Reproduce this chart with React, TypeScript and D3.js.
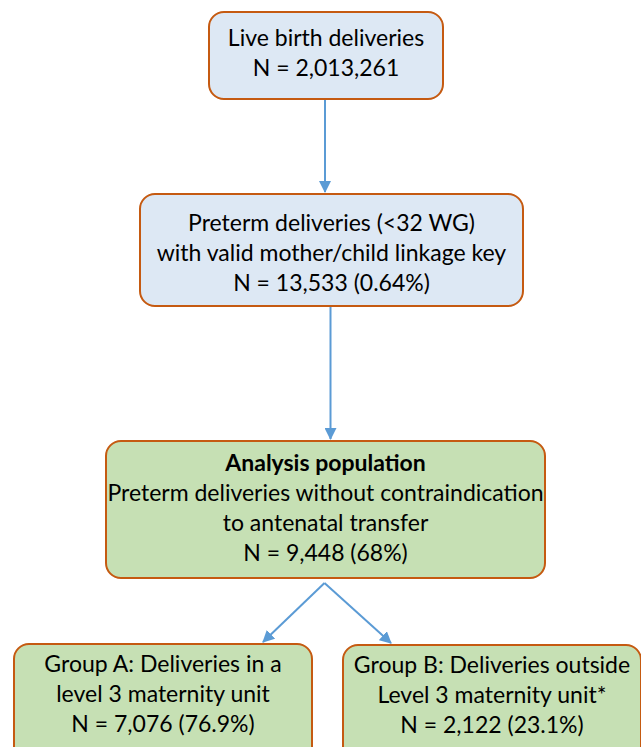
import React, { useEffect, useRef } from 'react';
import * as d3 from 'd3';

// box content
const boxIds = ['live', 'preterm', 'analysis', 'groupA', 'groupB'];
const boxTitles = ['', '', 'Analysis population', '', ''];
const boxLines = [
  ['Live birth deliveries', 'N = 2,013,261'],
  ['Preterm deliveries (<32 WG)', 'with valid mother/child linkage key', 'N = 13,533 (0.64%)'],
  ['Preterm deliveries without contraindication', 'to antenatal transfer', 'N = 9,448 (68%)'],
  ['Group A: Deliveries in a', 'level 3 maternity unit', 'N = 7,076 (76.9%)'],
  ['Group B: Deliveries outside', 'Level 3 maternity unit*', 'N = 2,122 (23.1%)'],
];
const boxKinds = ['blue', 'blue', 'green', 'green', 'green'];

// layout (pixels)
const boxX = [209, 140, 106, 14, 343];
const boxW = [234, 383, 439, 298, 298];
const boxY = [12, 194, 441, 644, 645];
const boxH = [87, 112, 137, 120, 120];
const firstBaseline = [46, 231, 471, 672, 673];

const links = [
  ['live', 'preterm'],
  ['preterm', 'analysis'],
  ['analysis', 'groupA'],
  ['analysis', 'groupB'],
];

const fills: Record<string, string> = { blue: '#dde8f4', green: '#c6e0b4' };

const App = () => {
  const ref = useRef<SVGSVGElement>(null);

  useEffect(() => {
    const svg = d3.select(ref.current);
    svg.selectAll('*').remove();

    const nodes = boxIds.map((id, i) => ({
      id, x: boxX[i], y: boxY[i], w: boxW[i], h: boxH[i],
      title: boxTitles[i], lines: boxLines[i], kind: boxKinds[i], base: firstBaseline[i],
    }));
    const byId = new Map(nodes.map(n => [n.id, n]));

    svg.append('defs').append('marker')
      .attr('id', 'head')
      .attr('viewBox', '0 0 12 12')
      .attr('refX', 11).attr('refY', 6)
      .attr('markerWidth', 12).attr('markerHeight', 12)
      .attr('markerUnits', 'userSpaceOnUse')
      .attr('orient', 'auto')
      .append('path')
      .attr('d', 'M0,0 L12,6 L0,12 Z')
      .attr('fill', '#5b9bd5');

    const line = d3.line();

    links.forEach(([s, t]) => {
      const a = byId.get(s)!;
      const b = byId.get(t)!;
      const sx = a.x + a.w / 2 - 1;
      const sy = a.y + a.h + 5;
      let tx = b.x + b.w / 2;
      const ty = b.y - 2;
      // diagonal branches end near the inner side of the target box
      if (t === 'groupA') tx = b.x + b.w - 49;
      if (t === 'groupB') tx = b.x + 48;
      if (s !== 'analysis') tx = sx;
      svg.append('path')
        .attr('d', line([[sx, s === 'analysis' ? sy : a.y + a.h], [tx, ty]]))
        .attr('stroke', '#5b9bd5')
        .attr('stroke-width', 2)
        .attr('fill', 'none')
        .attr('marker-end', 'url(#head)');
    });

    const g = svg.selectAll('g.box').data(nodes).enter().append('g').attr('class', 'box');

    g.append('rect')
      .attr('x', d => d.x).attr('y', d => d.y)
      .attr('width', d => d.w).attr('height', d => d.h)
      .attr('rx', 15).attr('ry', 15)
      .attr('fill', d => fills[d.kind])
      .attr('stroke', '#c55a11')
      .attr('stroke-width', 2);

    g.each(function (d) {
      const el = d3.select(this);
      const rows = d.title ? [d.title, ...d.lines] : d.lines;
      rows.forEach((txt, i) => {
        el.append('text')
          .attr('x', d.x + d.w / 2)
          .attr('y', d.base + i * 30)
          .attr('text-anchor', 'middle')
          .attr('font-family', 'Lato, sans-serif')
          .attr('font-size', 23)
          .attr('font-weight', d.title && i === 0 ? 700 : 400)
          .attr('fill', '#000')
          .text(txt);
      });
    });
  }, []);

  return (
    <div style={{ position: 'absolute', left: 0, top: 0 }}>
      <svg ref={ref} width={641} height={747} style={{ display: 'block', background: '#fff' }} />
    </div>
  );
};

export default App;
